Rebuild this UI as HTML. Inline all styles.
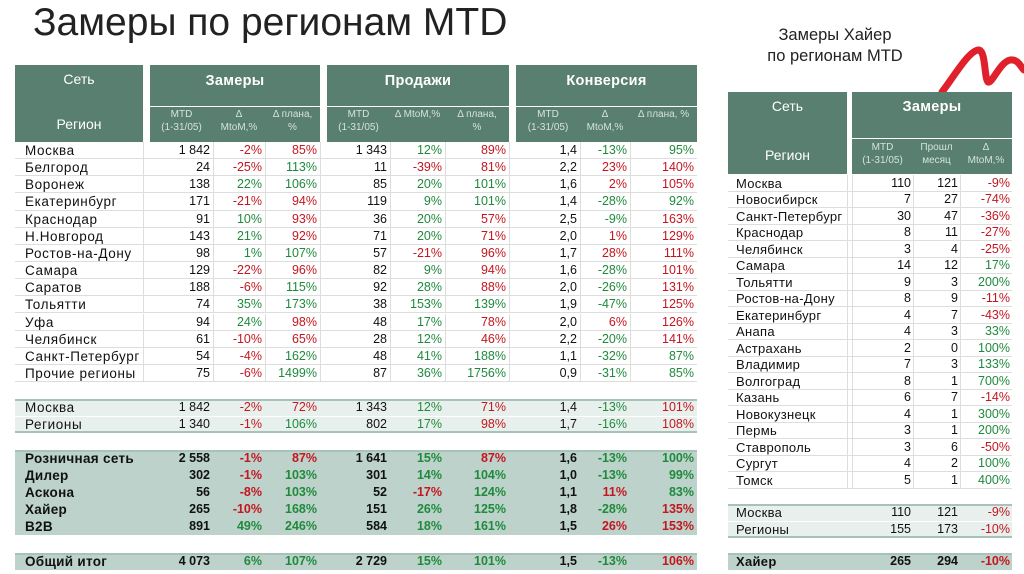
<!DOCTYPE html>
<html><head><meta charset="utf-8">
<style>
body{margin:0;width:1024px;height:574px;background:#fff;overflow:hidden;position:relative;font-family:"Liberation Sans","DejaVu Sans",sans-serif;}
.a{position:absolute;box-sizing:border-box;white-space:nowrap;}
.hd{background:#587f70;}
.t{font-size:12.5px;color:#111;line-height:17px;}
.nm{font-size:13.5px;letter-spacing:0.6px;}
.hn{font-size:13px;letter-spacing:0.3px;}
.r{text-align:right;}
.g{color:#1f8a3c;}.d{color:#c4161f;}
.b{font-weight:bold;}
</style></head><body>
<div class="a" style="left:33px;top:1px;font-size:39px;color:#222;">Замеры по регионам MTD</div>
<div class="a" style="left:735px;top:25px;width:200px;text-align:center;font-size:16.5px;color:#222;line-height:21px;">Замеры Хайер<br>по регионам MTD</div>
<svg class="a" style="left:930px;top:40px;" width="94" height="56"><path d="M12 52 C25 35 38 12 48 10 C56 9 54 38 58 42 C62 44 70 22 80 20 C88 19 90 26 94 30" fill="none" stroke="#e0202a" stroke-width="7" stroke-linecap="round"/></svg>
<div id="root"></div>
<script>
// Left table data
const regions=["Москва","Белгород","Воронеж","Екатеринбург","Краснодар","Н.Новгород","Ростов-на-Дону","Самара","Саратов","Тольятти","Уфа","Челябинск","Санкт-Петербург","Прочие регионы"];
const zamMtd=["1 842","24","138","171","91","143","98","129","188","74","94","61","54","75"];
const zamDelta=[-2,-25,22,-21,10,21,1,-22,-6,35,24,-10,-4,-6];
const zamPlan=[85,113,106,94,93,92,107,96,115,173,98,65,162,1499];
const prodMtd=["1 343","11","85","119","36","71","57","82","92","38","48","28","48","87"];
const prodDelta=[12,-39,20,9,20,20,-21,9,28,153,17,12,41,36];
const prodPlan=[89,81,101,101,57,71,96,94,88,139,78,46,188,1756];
const convMtd=["1,4","2,2","1,6","1,4","2,5","2,0","1,7","1,6","2,0","1,9","2,0","2,2","1,1","0,9"];
const convDelta=[-13,23,2,-28,-9,1,28,-28,-26,-47,6,-20,-32,-31];
const convPlan=[95,140,105,92,163,129,111,101,131,125,126,141,87,85];
// Summary rows
const sumNames=["Москва","Регионы","Розничная сеть","Дилер","Аскона","Хайер","B2B","Общий итог"];
const sumZamMtd=["1 842","1 340","2 558","302","56","265","891","4 073"];
const sumZamDelta=[-2,-1,-1,-1,-8,-10,49,6];
const sumZamPlan=[72,106,87,103,103,168,246,107];
const sumProdMtd=["1 343","802","1 641","301","52","151","584","2 729"];
const sumProdDelta=[12,17,15,14,-17,26,18,15];
const sumProdPlan=[71,98,87,104,124,125,161,101];
const sumConvMtd=["1,4","1,7","1,6","1,0","1,1","1,8","1,5","1,5"];
const sumConvDelta=[-13,-16,-13,-13,11,-28,26,-13];
const sumConvPlan=[101,108,100,99,83,135,153,106];
// Right table
const hRegions=["Москва","Новосибирск","Санкт-Петербург","Краснодар","Челябинск","Самара","Тольятти","Ростов-на-Дону","Екатеринбург","Анапа","Астрахань","Владимир","Волгоград","Казань","Новокузнецк","Пермь","Ставрополь","Сургут","Томск"];
const hMtd=[110,7,30,8,3,14,9,8,4,4,2,7,8,6,4,3,3,4,5];
const hPrev=[121,27,47,11,4,12,3,9,7,3,0,3,1,7,1,1,6,2,1];
const hDelta=[-9,-74,-36,-27,-25,17,200,-11,-43,33,100,133,700,-14,300,200,-50,100,400];
const hSumNames=["Москва","Регионы","Хайер"];
const hSumMtd=[110,155,265];
const hSumPrev=[121,173,294];
const hSumDelta=[-9,-10,-10];

const root=document.getElementById('root');
function box(x,y,w,h,cls,txt,style,name){
  const e=document.createElement('div');
  e.className='a '+(cls||'');
  e.style.left=x+'px';e.style.top=y+'px';e.style.width=w+'px';e.style.height=h+'px';
  if(style)e.style.cssText+=style;
  if(txt!==undefined)e.innerHTML=txt;
  
  
  root.appendChild(e);return e;
}
const pc=v=>v+'%';
const cD=v=>v<0?'d':'g';
const cP=v=>v>=100?'g':'d';
const cDr=v=>v<0?'g':'d';
const cPr=v=>v<=100?'g':'d';

// Left header
const groups=[[150,320,"Замеры"],[327,509,"Продажи"],[516,697,"Конверсия"]];
box(15,65,128,77,'hd','','','header-network-region');
box(15,71,128,20,'','Сеть','color:#fff;font-size:14px;text-align:center;','header-network');
box(15,116,128,20,'','Регион','color:#fff;font-size:14px;text-align:center;','header-region');
groups.forEach(g=>{
  box(g[0],65,g[1]-g[0],41,'hd',g[2],'color:#fff;font-size:14.5px;font-weight:bold;text-align:center;line-height:32px;letter-spacing:0.3px;','header-group');
  box(g[0],107,g[1]-g[0],35,'hd','','','subheader-band');
});
const cols=[[150,213],[213,265],[265,320],[327,390],[390,445],[445,509],[516,580],[580,630],[630,697]];
const subs=["MTD<br>(1-31/05)","Δ<br>MtoM,%","Δ плана,<br>%","MTD<br>(1-31/05)","Δ MtoM,%<br>&nbsp;","Δ плана,<br>%","MTD<br>(1-31/05)","Δ<br>MtoM,%","Δ плана, %<br>&nbsp;"];
cols.forEach((c,i)=>box(c[0],108,c[1]-c[0],32,'',subs[i],'color:#d4e3dc;font-size:10px;line-height:13px;text-align:center;','subheader'));

function rowCells(y,vals,bold,name){
  vals.forEach((v,i)=>{
    box(cols[i][0],y,cols[i][1]-cols[i][0]-3,17,'t r '+v[1]+(bold?' b':''),v[0],'',name+'-value');
  });
}
const RH=17.15;
regions.forEach((r,i)=>{
  const y=142+i*RH;
  box(15,y,682,RH,'','', 'border-bottom:1px solid #ddd;','row-line');
  [143,213,265,320,390,445,509,580,630].forEach(x=>box(x,y,1,RH,'','','background:#ddd;','grid'));
  box(25,y,118,17,'t nm',r,'','region-name');
  rowCells(y,[[zamMtd[i],''],[pc(zamDelta[i]),cD(zamDelta[i])],[pc(zamPlan[i]),cP(zamPlan[i])],
    [prodMtd[i],''],[pc(prodDelta[i]),cD(prodDelta[i])],[pc(prodPlan[i]),cP(prodPlan[i])],
    [convMtd[i],''],[pc(convDelta[i]),cDr(convDelta[i])],[pc(convPlan[i]),cPr(convPlan[i])]],false,'region');
});
const sumY=[399,416,450,467,484,501,518,553];
sumNames.forEach((n,i)=>{
  const y=sumY[i], bold=i>=2;
  box(15,y,682,17,'','',(bold?'background:#bcd2ca;':'background:#e8f0ed;')+(i==0||i==2||i==7?'border-top:2px solid #a9c2b9;':'')+(i==1?'border-bottom:2px solid #a9c2b9;border-top:1px solid #fff;':''),'summary-band');
  box(25,y,130,17,'t nm'+(bold?' b':''),n,bold?'letter-spacing:0.3px;':'','summary-name');
  rowCells(y,[[sumZamMtd[i],''],[pc(sumZamDelta[i]),cD(sumZamDelta[i])],[pc(sumZamPlan[i]),cP(sumZamPlan[i])],
    [sumProdMtd[i],''],[pc(sumProdDelta[i]),cD(sumProdDelta[i])],[pc(sumProdPlan[i]),cP(sumProdPlan[i])],
    [sumConvMtd[i],''],[pc(sumConvDelta[i]),cDr(sumConvDelta[i])],[pc(sumConvPlan[i]),cPr(sumConvPlan[i])]],bold,'summary');
});

// Right table
box(728,92,119,82,'hd','','','h-header-network-region');
box(728,98,119,20,'','Сеть','color:#fff;font-size:14px;text-align:center;','h-header-network');
box(728,147,119,20,'','Регион','color:#fff;font-size:14px;text-align:center;','h-header-region');
box(852,92,160,46,'hd','Замеры','color:#fff;font-size:14.5px;font-weight:bold;text-align:center;line-height:30px;letter-spacing:0.3px;','h-header-group');
box(852,139,160,35,'hd','','','h-subheader-band');
const hcols=[[852,913],[913,960],[960,1012]];
const hsubs=["MTD<br>(1-31/05)","Прошл<br>месяц","Δ<br>MtoM,%"];
hcols.forEach((c,i)=>box(c[0],141,c[1]-c[0],32,'',hsubs[i],'color:#d4e3dc;font-size:10px;line-height:13px;text-align:center;','h-subheader'));
const HR=16.5;
hRegions.forEach((r,i)=>{
  const y=175+i*HR;
  box(728,y,284,HR,'','','border-bottom:1px solid #ddd;','h-row-line');
  [847,852,913,960].forEach(x=>box(x,y,1,HR,'','','background:#ddd;','grid'));
  box(736,y-0.5,115,17,'t hn',r,'','h-region-name');
  box(852,y-0.5,59,17,'t r',hMtd[i],'','h-mtd');
  box(913,y-0.5,45,17,'t r',hPrev[i],'','h-prev');
  box(960,y-0.5,50,17,'t r '+cD(hDelta[i]),pc(hDelta[i]),'','h-delta');
});
const hSumY=[504,521,553];
hSumNames.forEach((n,i)=>{
  const y=hSumY[i], bold=i==2;
  box(728,y,284,17,'','',(bold?'background:#bcd2ca;border-top:2px solid #a9c2b9;':'background:#e8f0ed;')+(i==0?'border-top:2px solid #a9c2b9;':'')+(i==1?'border-bottom:2px solid #a9c2b9;border-top:1px solid #fff;':''),'h-summary-band');
  box(736,y,115,17,'t hn'+(bold?' b':''),n,'','h-summary-name');
  box(852,y,59,17,'t r'+(bold?' b':''),hSumMtd[i],'','h-summary-mtd');
  box(913,y,45,17,'t r'+(bold?' b':''),hSumPrev[i],'','h-summary-prev');
  box(960,y,50,17,'t r '+cD(hSumDelta[i])+(bold?' b':''),pc(hSumDelta[i]),'','h-summary-delta');
});
</script>
</body></html>
